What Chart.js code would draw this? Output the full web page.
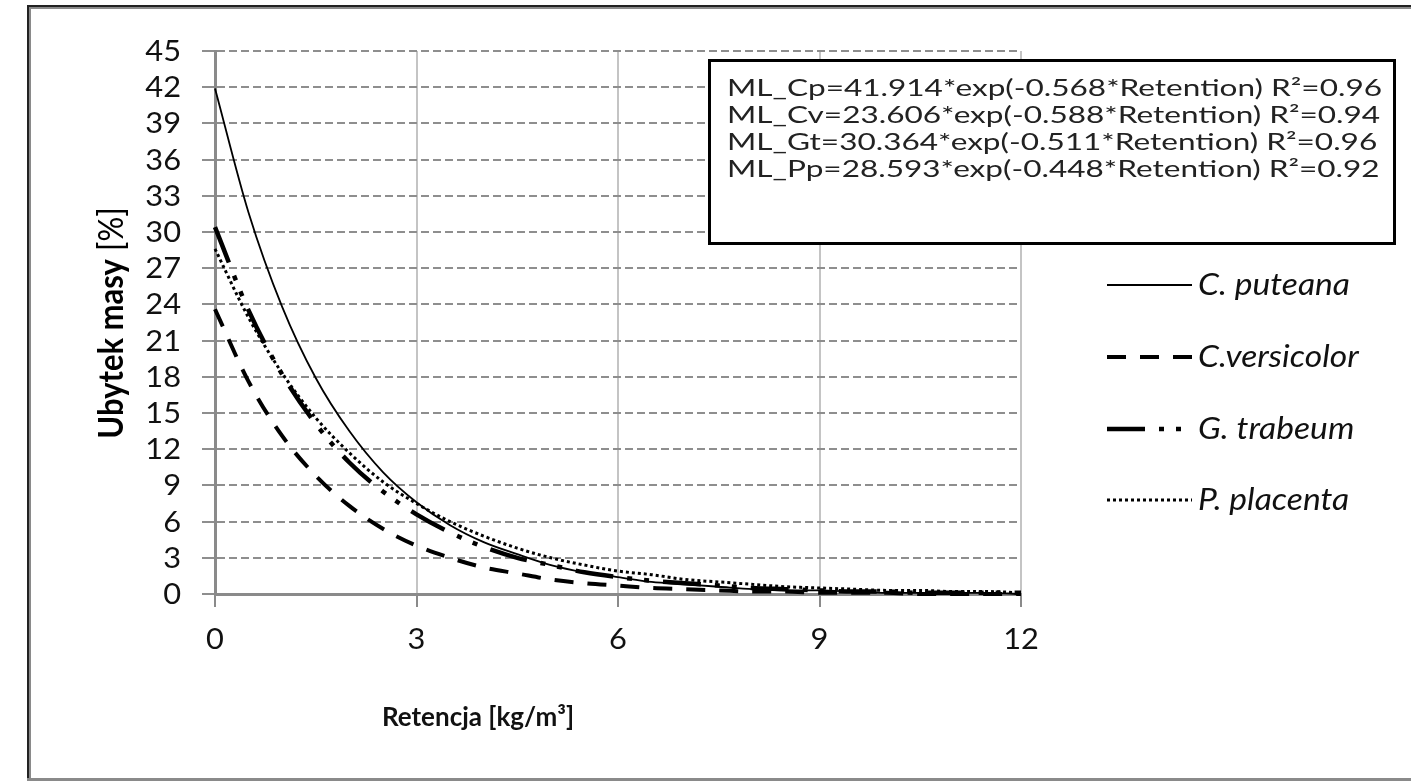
<!DOCTYPE html>
<html>
<head>
<meta charset="utf-8">
<script src="https://cdn.jsdelivr.net/npm/chart.js@4.4.1/dist/chart.umd.min.js"></script>
<style>
html,body{margin:0;padding:0;background:#ffffff;}
canvas{display:block;}
</style>
</head>
<body>
<canvas id="c" width="1411" height="781"></canvas>
<script>
// ---- data ----
const retention   = [0,0.5,1,1.5,2,2.5,3,3.5,4,4.5,5,5.5,6,6.5,7,7.5,8,8.5,9,9.5,10,10.5,11,11.5,12];
const cPuteana    = [41.9,31.6,23.8,17.9,13.5,10.1,7.6,5.7,4.3,3.3,2.4,1.8,1.4,1.0,0.8,0.6,0.4,0.3,0.3,0.2,0.1,0.1,0.1,0.1,0.0];
const cVersicolor = [23.6,17.6,13.1,9.8,7.3,5.4,4.0,3.0,2.2,1.7,1.2,0.9,0.7,0.5,0.4,0.3,0.2,0.2,0.1,0.1,0.1,0.0,0.0,0.0,0.0];
const gTrabeum    = [30.4,23.5,18.2,14.1,10.9,8.5,6.6,5.1,3.9,3.0,2.4,1.8,1.4,1.1,0.9,0.7,0.5,0.4,0.3,0.2,0.2,0.1,0.1,0.1,0.1];
const pPlacenta   = [28.6,22.9,18.3,14.6,11.7,9.3,7.5,6.0,4.8,3.8,3.0,2.4,1.9,1.6,1.2,1.0,0.8,0.6,0.5,0.4,0.3,0.3,0.2,0.2,0.1];
const seriesNames = ['C. puteana','C.versicolor','G. trabeum','P. placenta'];
const equations   = [
  'ML_Cp=41.914*exp(-0.568*Retention) R\u00B2=0.96',
  'ML_Cv=23.606*exp(-0.588*Retention) R\u00B2=0.94',
  'ML_Gt=30.364*exp(-0.511*Retention) R\u00B2=0.96',
  'ML_Pp=28.593*exp(-0.448*Retention) R\u00B2=0.92'
];
const xTicks = [0,3,6,9,12];
const yTicks = [0,3,6,9,12,15,18,21,24,27,30,33,36,39,42,45];
const xTitle = 'Retencja [kg/m\u00B3]';
const yTitleBold = 'Ubytek masy';
const yTitleRest = ' [%]';

// ---- styles ----
const FONT = 'Lato, "Open Sans", sans-serif';
const styles = [
  {borderWidth: 1.8, borderDash: []},
  {borderWidth: 4, borderDash: [19, 14]},
  {borderWidth: 4.5, borderDash: [38, 14, 5, 12, 5, 14]},
  {borderWidth: 3, borderDash: [3, 3]}
];
const seriesData = [cPuteana, cVersicolor, gTrabeum, pPlacenta];

const datasets = seriesData.map((arr, i) => ({
  label: seriesNames[i],
  data: retention.map((x, j) => ({x: x, y: arr[j]})),
  borderColor: '#000000',
  backgroundColor: '#000000',
  borderWidth: styles[i].borderWidth,
  borderDash: styles[i].borderDash,
  borderCapStyle: 'butt',
  pointRadius: 0,
  fill: false,
  cubicInterpolationMode: 'monotone',
  clip: 4
}));

function drawText(ctx, text, x, y, o) {
  ctx.save();
  ctx.translate(x, y);
  ctx.scale(o.sx || 1, 1);
  if (o.rotate) ctx.rotate(o.rotate);
  ctx.font = o.font;
  ctx.fillStyle = o.color || '#000';
  ctx.textAlign = o.align || 'left';
  ctx.textBaseline = o.baseline || 'middle';
  ctx.fillText(text, 0, 0);
  ctx.restore();
}

const decor = {
  id: 'decor',
  afterDraw(chart) {
    const ctx = chart.ctx;
    const xs = chart.scales.x, ys = chart.scales.y;
    // outer frame
    ctx.save();
    ctx.fillStyle = '#222';
    ctx.fillRect(27, 5, 1411, 2);
    ctx.fillRect(27, 5, 2, 776);
    ctx.fillStyle = '#8a8a8a';
    ctx.fillRect(29, 7, 1411, 2);
    ctx.fillRect(29, 7, 2, 774);
    ctx.fillRect(27, 778, 1411, 3);
    ctx.restore();

    // tick labels
    yTicks.forEach(v => drawText(ctx, String(v), 181, ys.getPixelForValue(v) + 1,
      {font: '28px ' + FONT, align: 'right', sx: 1.1, color: '#111'}));
    xTicks.forEach(v => drawText(ctx, String(v), xs.getPixelForValue(v), 640,
      {font: '28px ' + FONT, align: 'center', sx: 1.1, color: '#111'}));

    // y title (bold part + normal part), rotated
    ctx.save();
    ctx.translate(112, 323);
    ctx.scale(1.1, 1);
    ctx.rotate(-Math.PI / 2);
    ctx.textBaseline = 'middle';
    ctx.fillStyle = '#000';
    ctx.font = 'bold 31px ' + FONT;
    const wb = ctx.measureText(yTitleBold).width;
    ctx.font = '31px ' + FONT;
    const wr = ctx.measureText(yTitleRest).width;
    const start = -(wb + wr) / 2;
    ctx.textAlign = 'left';
    ctx.font = 'bold 31px ' + FONT;
    ctx.fillText(yTitleBold, start, 0);
    ctx.font = '31px ' + FONT;
    ctx.fillText(yTitleRest, start + wb, 0);
    ctx.restore();

    // x title
    drawText(ctx, xTitle, 478, 718, {font: 'bold 26px ' + FONT, align: 'center', sx: 1.0, color: '#111'});

    // equation box
    ctx.save();
    ctx.fillStyle = '#fff';
    ctx.fillRect(709, 60, 686, 184);
    ctx.lineWidth = 3;
    ctx.strokeStyle = '#000';
    ctx.strokeRect(709.5, 60.5, 685, 183);
    ctx.font = '24px ' + FONT;
    const eqW = ctx.measureText(equations[0]).width;
    const eqSx = 655 / eqW;
    ctx.restore();
    equations.forEach((t, i) => drawText(ctx, t, 727, 88 + i * 27,
      {font: '24px ' + FONT, sx: eqSx, color: '#222'}));

    // legend at right
    const rows = [285, 357, 429, 500];
    rows.forEach((ry, i) => {
      ctx.save();
      ctx.strokeStyle = '#000';
      ctx.lineWidth = styles[i].borderWidth;
      ctx.setLineDash(styles[i].borderDash);
      ctx.lineCap = 'butt';
      ctx.beginPath();
      ctx.moveTo(1107, ry);
      ctx.lineTo(1192, ry);
      ctx.stroke();
      ctx.restore();
      drawText(ctx, seriesNames[i], 1198, ry, {font: 'italic 30px ' + FONT, sx: 1.12, color: '#111'});
    });
  }
};

new Chart(document.getElementById('c'), {
  type: 'line',
  data: {datasets: datasets},
  options: {
    responsive: false,
    animation: false,
    devicePixelRatio: 1,
    events: [],
    layout: {padding: {left: 0, top: 51, right: 390, bottom: 0}},
    plugins: {legend: {display: false}, tooltip: {enabled: false}},
    scales: {
      x: {
        type: 'linear', min: 0, max: 12,
        afterFit(s) { s.height = 187; },
        afterBuildTicks(s) { s.ticks = xTicks.map(v => ({value: v})); },
        ticks: {display: false},
        grid: {color: '#c4c4c4', lineWidth: 2, tickLength: 13, tickColor: '#8a8a8a', tickWidth: 2},
        border: {display: true, color: '#8a8a8a', width: 3}
      },
      y: {
        type: 'linear', min: 0, max: 45,
        afterFit(s) { s.width = 215; },
        afterBuildTicks(s) { s.ticks = yTicks.map(v => ({value: v})); },
        ticks: {display: false},
        grid: {color: '#8e8e8e', lineWidth: 2, tickLength: 13, tickColor: '#8e8e8e', tickWidth: 2},
        border: {display: true, color: '#8a8a8a', width: 3, dash: [8, 4]}
      }
    }
  },
  plugins: [decor]
});
</script>
</body>
</html>
